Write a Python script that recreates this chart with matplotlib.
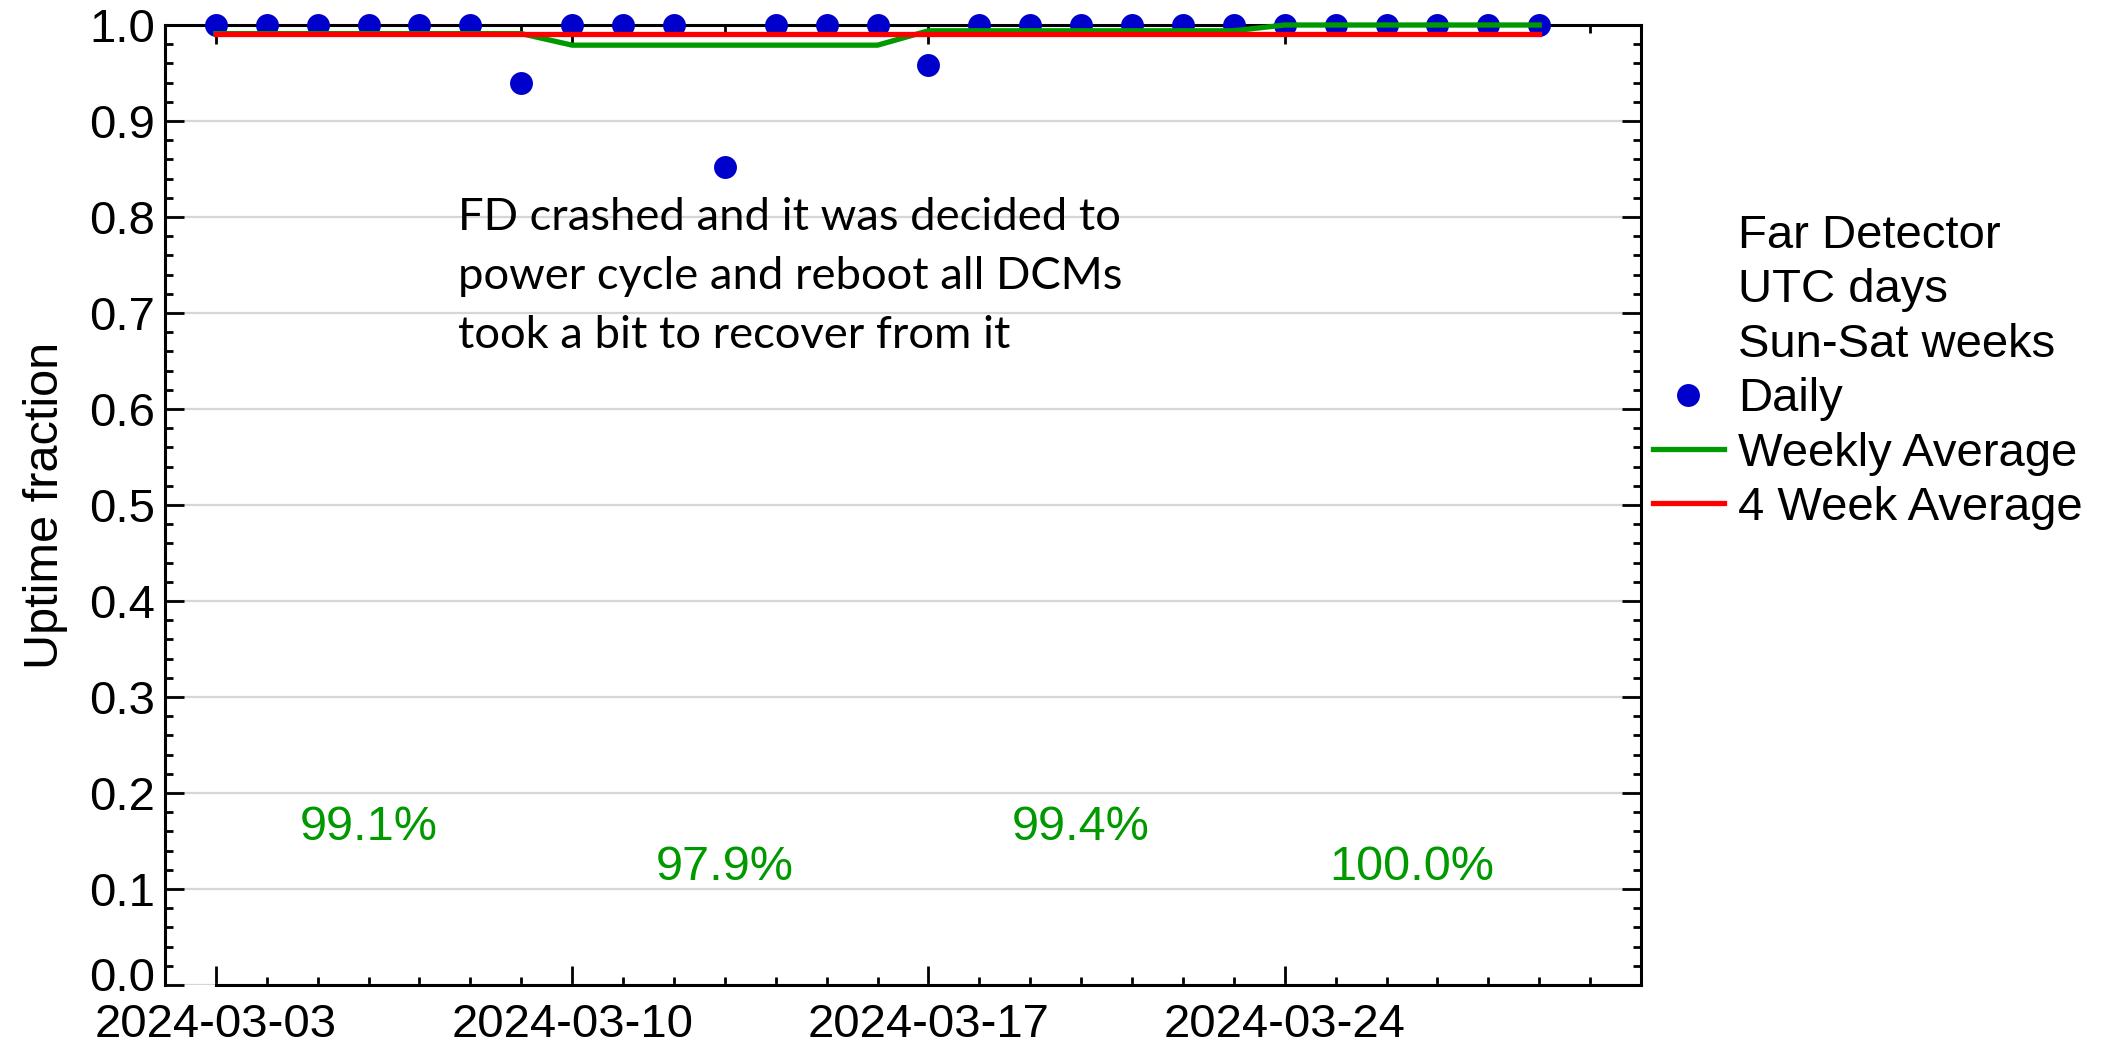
import matplotlib
matplotlib.use("Agg")
import matplotlib.pyplot as plt
import matplotlib.dates as mdates
from matplotlib.ticker import MultipleLocator, FormatStrFormatter
from matplotlib.transforms import ScaledTranslation
from matplotlib.lines import Line2D
import numpy as np
import pandas as pd

# ---------------- data ----------------
dates = pd.date_range("2024-03-03", "2024-03-29", freq="D")
daily = [1.0, 1.0, 1.0, 1.0, 1.0, 1.0, 0.940,
         1.0, 1.0, 1.0, 0.852, 1.0, 1.0, 1.0,
         0.958, 1.0, 1.0, 1.0, 1.0, 1.0, 1.0,
         1.0, 1.0, 1.0, 1.0, 1.0, 1.0]
week_starts = pd.to_datetime(["2024-03-03", "2024-03-10", "2024-03-17", "2024-03-24"])
weekly_avg = [0.991, 0.979, 0.994, 1.000]
week_labels = ["99.1%", "97.9%", "99.4%", "100.0%"]
four_week_avg = 0.991
legend_header = ["Far Detector", "UTC days", "Sun-Sat weeks"]
annotation = ("FD crashed and it was decided to\n"
              "power cycle and reboot all DCMs\n"
              "took a bit to recover from it")
x_min, x_max = pd.Timestamp("2024-03-02"), pd.Timestamp("2024-03-31")

# ---------------- style ----------------
plt.rcParams["font.family"] = ["Liberation Sans", "DejaVu Sans"]
BLUE = "#0000cc"
GREEN = "#009900"
RED = "#ff0000"
W, H = 2124, 1053
fig = plt.figure(figsize=(W / 100, H / 100), dpi=100)
ax = fig.add_axes([165 / W, (H - 985) / H, (1641 - 165) / W, (985 - 25) / H])

weekly_line = np.repeat(weekly_avg, 7)[:len(dates)]
date_nums = mdates.date2num(dates)

ax.plot(dates, daily, "o", color=BLUE, ms=16.5, mec="none", zorder=3, clip_on=False)
ax.plot(dates, weekly_line, "-", color=GREEN, lw=3.8, zorder=4, clip_on=False)
ax.plot([dates[0], dates[-1]], [four_week_avg, four_week_avg], "-", color=RED, lw=3.8,
        zorder=5, clip_on=False)

# weekly percentage labels, centred on the days of each week
for i, (ws, lab) in enumerate(zip(week_starts, week_labels)):
    ws_num = mdates.date2num(ws)
    in_week = date_nums[(date_nums >= ws_num) & (date_nums < ws_num + 7)]
    ax.text(in_week.mean(), 0.164 if i % 2 == 0 else 0.122, lab,
            color=GREEN, fontsize=35, ha="center", va="center")

ax.text(0.1985, 0.738, annotation, transform=ax.transAxes, fontsize=32.7,
        family=["Lato", "DejaVu Sans"], ha="left", va="center", linespacing=1.56)

ax.set_xlim(x_min, x_max)
ax.set_ylim(0, 1)
ax.xaxis.set_major_locator(mdates.DayLocator(bymonthday=[3, 10, 17, 24]))
ax.xaxis.set_minor_locator(mdates.DayLocator())
ax.xaxis.set_major_formatter(mdates.DateFormatter("%Y-%m-%d"))
ax.yaxis.set_major_locator(MultipleLocator(0.1))
ax.yaxis.set_minor_locator(MultipleLocator(0.02))
ax.yaxis.set_major_formatter(FormatStrFormatter("%.1f"))

ax.tick_params(which="both", direction="in", top=True, right=True, width=2, color="black")
ax.tick_params(which="major", length=14, labelsize=34)
ax.tick_params(which="minor", length=6)
ax.tick_params(axis="x", which="major", pad=13)
ax.tick_params(axis="y", which="major", pad=7)

for s in ax.spines.values():
    s.set_linewidth(2.2)
ax.spines["bottom"].set_bounds(mdates.date2num(dates[0]), mdates.date2num(x_max))

ax.set_axisbelow(True)
ax.yaxis.grid(True, which="major", color="#d6d6d6", lw=1.6)

ax.set_ylabel("Uptime fraction", fontsize=35)
ax.yaxis.set_label_coords(-0.0657, 0.5)

handles = [Line2D([], [], alpha=0) for _ in legend_header] + [
    Line2D([], [], marker="o", ls="none", color=BLUE, ms=16.5, mec="none"),
    Line2D([], [], color=GREEN, lw=3.8),
    Line2D([], [], color=RED, lw=3.8),
]
labels = legend_header + ["Daily", "Weekly Average", "4 Week Average"]
fig.legend(handles, labels, loc="upper left", bbox_to_anchor=(1653 / W, 1 - 214 / H),
           frameon=False, fontsize=34, borderpad=0, borderaxespad=0,
           handlelength=1.5, handletextpad=0.3, labelspacing=0.22)

# lift the "0.0" label slightly, as in the original
fig.canvas.draw()
for tick in ax.yaxis.get_major_ticks():
    if tick.label1.get_text() == "0.0":
        tick.label1.set_transform(tick.label1.get_transform()
                                  + ScaledTranslation(0, 8 / 72, fig.dpi_scale_trans))

fig.savefig("out.png", dpi=100)
